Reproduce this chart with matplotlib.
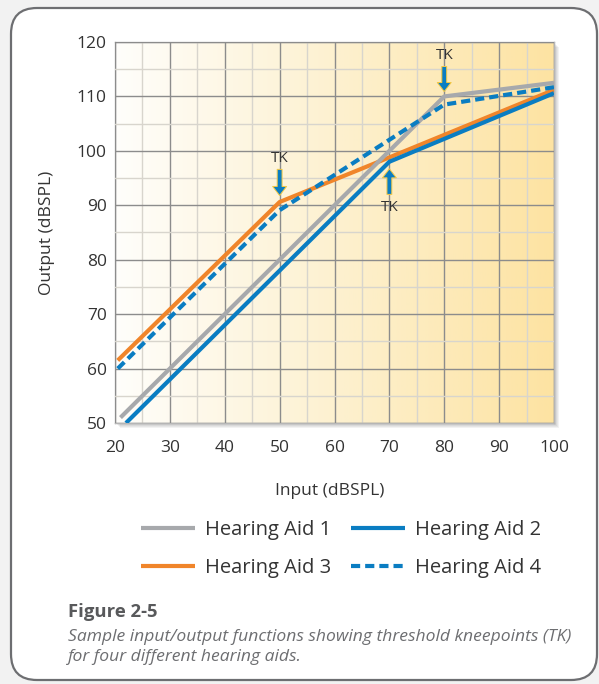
import numpy as np
import matplotlib.pyplot as plt
from matplotlib.patches import FancyBboxPatch, Rectangle
from matplotlib.colors import LinearSegmentedColormap

plt.rcParams['font.family'] = ['Open Sans', 'DejaVu Sans']

# data
x_aid1 = [21, 80, 100]
y_aid1 = [51, 110, 112.5]
x_aid2 = [22, 70, 100]
y_aid2 = [50, 98, 110.6]
x_aid3 = [20.5, 50, 70, 100]
y_aid3 = [61.5, 90.6, 98.8, 111.2]
x_aid4 = [20.5, 50, 80, 100]
y_aid4 = [60, 89.1, 108.5, 111.7]
labels = ['Hearing Aid 1', 'Hearing Aid 2', 'Hearing Aid 3', 'Hearing Aid 4']

# kneepoint markers: (x, arrow tip y, arrow tail y, text y)
tk_x = [50, 80, 70]
tk_tip = [91.8, 110.9, 96.7]
tk_tail = [96.6, 115.5, 92.0]
tk_text = [98.6, 117.6, 89.6]

gray = '#a7a9ac'
blue = '#0a7dc2'
orange = '#f0852a'
txt = '#333333'

W, H = 599, 684
fig = plt.figure(figsize=(W / 100, H / 100), dpi=100, facecolor='#f2f2f2')

# frame drawn in pixel coords on a background axes
bg = fig.add_axes([0, 0, 1, 1], zorder=-5)
bg.set_xlim(0, W)
bg.set_ylim(H, 0)
bg.axis('off')
bg.add_patch(FancyBboxPatch((11, 8), 586, 672, boxstyle='round,pad=0,rounding_size=26',
                            fc='white', ec='#6d6e71', lw=1.6))
# soft shadow under the plot box
for i, a in enumerate([0.05, 0.05, 0.05, 0.06]):
    d = 4 - i
    bg.add_patch(Rectangle((116 + d, 43 + d), 439, 381, fc='black', ec='none', alpha=a))

ax = fig.add_axes([115 / W, 1 - 423 / H, 439 / W, 381 / H])
ax.set_xlim(20, 100)
ax.set_ylim(50, 120)

# cream gradient background
cmap = LinearSegmentedColormap.from_list('cream', ['#fffefb', '#fdf1d0', '#fde3a2'])
grad = np.linspace(0, 1, 256).reshape(1, -1)
ax.imshow(grad, extent=[20, 100, 50, 120], aspect='auto', cmap=cmap, zorder=0)

ax.set_xticks(range(20, 101, 10))
ax.set_yticks(range(50, 121, 10))
ax.set_xticks(range(25, 100, 10), minor=True)
ax.set_yticks(range(55, 120, 10), minor=True)
ax.grid(which='major', color='#8c8c8c', lw=1.0, zorder=1)
ax.grid(which='minor', color='#d8d5cd', lw=1.0, zorder=1)
ax.set_axisbelow(False)
ax.tick_params(which='both', length=0)
ax.tick_params(axis='x', pad=12, labelsize=12.5, labelcolor=txt)
ax.tick_params(axis='y', pad=6, labelsize=12.5, labelcolor=txt)
for s in ax.spines.values():
    s.set_color('#b5b5b5')
    s.set_linewidth(1)

l3, = ax.plot(x_aid3, y_aid3, color=orange, lw=3, solid_capstyle='butt', zorder=3)
l2, = ax.plot(x_aid2, y_aid2, color=blue, lw=3, solid_capstyle='butt', zorder=3)
l1, = ax.plot(x_aid1, y_aid1, color=gray, lw=3, solid_capstyle='butt', zorder=3)
l4, = ax.plot(x_aid4, y_aid4, color=blue, lw=3, ls=(0, (2.2, 1.2)), zorder=3)

for x, tip, tail, ty in zip(tk_x, tk_tip, tk_tail, tk_text):
    ax.annotate('', xy=(x, tip), xytext=(x, tail),
                arrowprops=dict(arrowstyle='simple,head_length=0.65,head_width=1.0,tail_width=0.35',
                                fc=blue, ec='#f5c842', lw=0.7, shrinkA=0, shrinkB=0,
                                mutation_scale=10), zorder=4)
    ax.text(x, ty, 'TK', ha='center', va='center', fontsize=11, color=txt, zorder=4)

ax.set_xlabel('Input (dBSPL)', fontsize=12.5, color=txt)
ax.set_ylabel('Output (dBSPL)', fontsize=12.5, color=txt)
ax.xaxis.set_label_coords(0.49, -0.158)
ax.yaxis.set_label_coords(-0.137, 0.5)

# legend fills column by column, so order handles to read row by row
fig.legend([l1, l3, l2, l4], [labels[0], labels[2], labels[1], labels[3]], ncol=2,
           frameon=False, fontsize=14.5, handlelength=2.7, handletextpad=0.5,
           columnspacing=0.95, labelspacing=0.85, labelcolor=txt, loc='center',
           bbox_to_anchor=(341 / W, 1 - 549 / H))

fig.text(68 / W, 1 - 612 / H, 'Figure 2-5', fontsize=13.3, fontweight='bold',
         color='#58595b', va='center')
fig.text(68 / W, 1 - 647 / H,
         'Sample input/output functions showing threshold kneepoints (TK)\nfor four different hearing aids.',
         fontsize=12.6, style='italic', color='#6d6e71', va='center', linespacing=1.3)

fig.savefig('out.png', dpi=100, facecolor=fig.get_facecolor())
